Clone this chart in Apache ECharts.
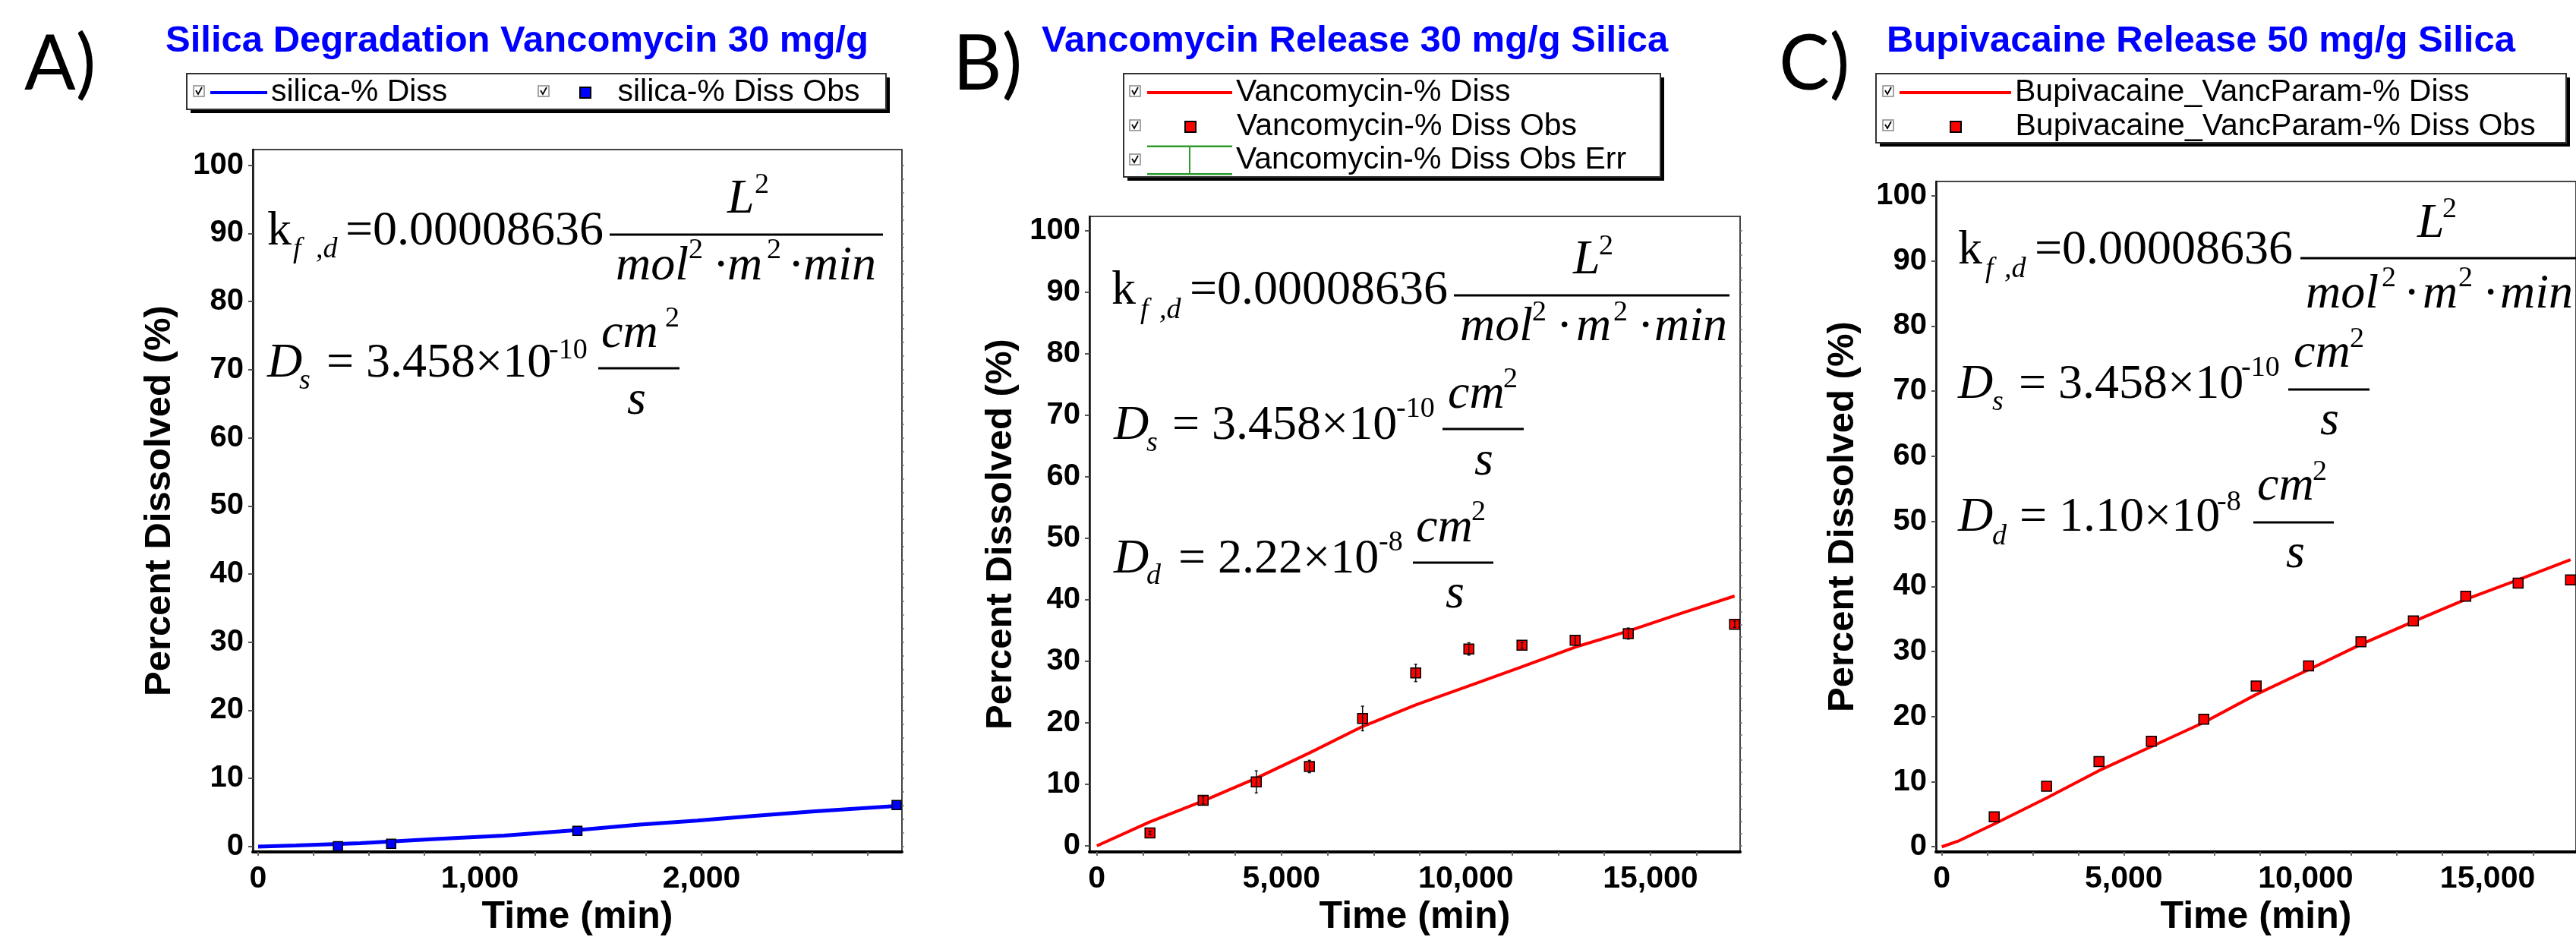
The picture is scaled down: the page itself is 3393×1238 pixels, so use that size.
<!DOCTYPE html>
<html>
<head>
<meta charset="utf-8">
<script src="https://cdn.jsdelivr.net/npm/echarts@6/dist/echarts.min.js"></script>
<style>
  html, body { margin: 0; padding: 0; background: #fff; }
  #chart { width: 3393px; height: 1238px; }
</style>
</head>
<body>
<div id="chart"></div>
<script>
// ---- data ----
// A) silica degradation, vancomycin 30 mg/g
const silicaTime = [0, 170, 460, 800, 1110, 1450, 1710, 1980, 2240, 2500, 2880];
const silicaDiss = [0, 0.15, 0.5, 1.1, 1.6, 2.45, 3.2, 3.8, 4.5, 5.15, 5.95];
const silicaObsTime = [360, 600, 1440, 2880];
const silicaObs = [0.05, 0.4, 2.3, 6.1];

// B) vancomycin release 30 mg/g silica
const vancTime = [0, 1440, 2880, 4320, 5760, 7200, 8640, 10080, 11520, 12960, 14400, 15840, 17280];
const vancDiss = [0, 3.9, 7.3, 11.0, 15.1, 19.4, 22.9, 26.0, 29.1, 32.3, 34.9, 37.8, 40.6];
const vancObsTime = [1440, 2880, 4320, 5760, 7200, 8640, 10080, 11520, 12960, 14400, 17280];
const vancObs = [2.1, 7.4, 10.4, 12.9, 20.7, 28.1, 32.0, 32.6, 33.4, 34.5, 36.0];
const vancObsErr = [0.3, 0.6, 1.8, 1.0, 2.0, 1.4, 1.0, 0.5, 0.8, 0.9, 0.5];

// C) bupivacaine release 50 mg/g silica
const bupiTime = [0, 440, 1440, 2880, 4320, 5760, 7200, 8640, 10080, 11520, 12960, 14400, 15840, 17280];
const bupiDiss = [0, 0.85, 3.5, 7.5, 11.7, 15.4, 19.1, 23.4, 27.2, 31.1, 34.6, 38.0, 41.0, 44.1];
const bupiObsTime = [1440, 2880, 4320, 5760, 7200, 8640, 10080, 11520, 12960, 14400, 15840, 17280];
const bupiObs = [4.6, 9.3, 13.1, 16.2, 19.6, 24.7, 27.8, 31.5, 34.7, 38.5, 40.5, 41.0];

// tick labels / tick marks
const pctLabels = [0, 10, 20, 30, 40, 50, 60, 70, 80, 90, 100];
const pctMinor = [0, 2, 4, 6, 8, 10, 12, 14, 16, 18, 20, 22, 24, 26, 28, 30, 32, 34, 36, 38, 40, 42, 44, 46, 48, 50,
  52, 54, 56, 58, 60, 62, 64, 66, 68, 70, 72, 74, 76, 78, 80, 82, 84, 86, 88, 90, 92, 94, 96, 98, 100];
const timeLabelsA = [0, 1000, 2000];
const timeTicksA = [0, 250, 500, 750, 1000, 1250, 1500, 1750, 2000, 2250, 2500, 2750];
const timeLabelsBC = [0, 5000, 10000, 15000];
const timeTicksBC = [0, 1250, 2500, 3750, 5000, 6250, 7500, 8750, 10000, 11250, 12500, 13750, 15000, 16250, 17500];

const sans = 'Liberation Sans, Arial, sans-serif';
const serif = 'Liberation Serif, Times New Roman, serif';

function pair(xs, ys) {
  return xs.map(function (x, i) { return [x, ys[i]]; });
}

function timeAxis(grid, min, max, labels, ticks) {
  return {
    gridIndex: grid,
    type: 'value',
    min: min,
    max: max,
    name: 'Time (min)',
    nameLocation: 'middle',
    nameGap: 60,
    nameTextStyle: { fontSize: 50, fontWeight: 'bold', color: '#000', fontFamily: sans },
    axisLine: { show: true, onZero: false, lineStyle: { color: '#000', width: 4 } },
    axisTick: { show: true, customValues: ticks, length: 5, lineStyle: { color: '#666', width: 2 } },
    axisLabel: {
      customValues: labels,
      margin: 15,
      fontSize: 41,
      fontWeight: 'bold',
      color: '#000',
      fontFamily: sans,
      formatter: function (v) { return v.toLocaleString('en-US'); }
    },
    splitLine: { show: false }
  };
}

function pctAxis(grid, min, max, gap) {
  return {
    gridIndex: grid,
    type: 'value',
    min: min,
    max: max,
    name: 'Percent Dissolved (%)',
    nameLocation: 'middle',
    nameGap: gap,
    nameTextStyle: { fontSize: 49, fontWeight: 'bold', color: '#000', fontFamily: sans },
    axisLine: { show: true, onZero: false, lineStyle: { color: '#111', width: 2.5 } },
    axisTick: { show: true, customValues: pctLabels, length: 6, lineStyle: { color: '#555', width: 2 } },
    axisLabel: {
      customValues: pctLabels,
      margin: 12,
      fontSize: 40,
      fontWeight: 'bold',
      color: '#000',
      fontFamily: sans
    },
    splitLine: { show: false }
  };
}

// second y axis per grid, only for the small ticks every 2 %
function pctMinorAxis(grid, min, max) {
  return {
    gridIndex: grid,
    type: 'value',
    min: min,
    max: max,
    axisLine: { show: false, onZero: false },
    axisTick: { show: true, customValues: pctMinor, length: 3, lineStyle: { color: '#777', width: 1.5 } },
    axisLabel: { show: false },
    splitLine: { show: false }
  };
}

// one legend component per entry so each sits where the original puts it
function legendItem(name, left, centerY, itemWidth, itemHeight, extra) {
  let item = Object.assign({ name: name }, extra || {});
  return {
    data: [item],
    left: left,
    top: centerY - 20.5,
    orient: 'horizontal',
    padding: 0,
    itemWidth: itemWidth,
    itemHeight: itemHeight,
    selectedMode: false,
    z: 5,
    textStyle: { fontSize: 41, color: '#000', fontFamily: sans }
  };
}

const squareIcon = 'path://M0,0H10V10H0Z';
const errIcon = 'path://M0,0H112V2.5H0Z M55,0H57V39H55Z M0,36.5H112V39H0Z';
function lineIcon(w) {
  return 'path://M0,0H' + w + 'V4H0Z';
}

// equation pieces: [x, middle y, text, size, italic]
const eqTexts = [
  // A
  [352, 305, 'k', 64, 0], [386, 329, 'f', 38, 1], [416, 329, ',d', 38, 1], [455, 305, '=0.00008636', 64, 0],
  [958, 263, 'L', 64, 1], [994, 244, '2', 38, 0],
  [811, 351, 'mol', 64, 1], [907, 330, '2', 38, 0], [939, 351, '·', 64, 0], [958, 351, 'm', 64, 1],
  [1010, 330, '2', 38, 0], [1038, 351, '·', 64, 0], [1058, 351, 'min', 64, 1],
  [352, 479, 'D', 64, 1], [394, 502, 's', 38, 1], [430, 479, '= 3.458×10', 64, 0], [723, 462, '-10', 38, 0],
  [792, 440, 'cm', 64, 1], [876, 420, '2', 38, 0], [826, 528, 's', 64, 1],
  // B
  [1464, 383, 'k', 64, 0], [1502, 409, 'f', 38, 1], [1527, 409, ',d', 38, 1], [1567, 383, '=0.00008636', 64, 0],
  [2072, 343, 'L', 64, 1], [2106, 325, '2', 38, 0],
  [1923, 431, 'mol', 64, 1], [2018, 412, '2', 38, 0], [2050, 431, '·', 64, 0], [2076, 431, 'm', 64, 1],
  [2125, 412, '2', 38, 0], [2157, 431, '·', 64, 0], [2179, 431, 'min', 64, 1],
  [1467, 561, 'D', 64, 1], [1510, 584, 's', 38, 1], [1544, 561, '= 3.458×10', 64, 0], [1839, 539, '-10', 38, 0],
  [1907, 520, 'cm', 64, 1], [1980, 500, '2', 38, 0], [1942, 608, 's', 64, 1],
  [1467, 737, 'D', 64, 1], [1510, 759, 'd', 38, 1], [1552, 737, '= 2.22×10', 64, 0], [1816, 715, '-8', 38, 0],
  [1865, 696, 'cm', 64, 1], [1938, 675, '2', 38, 0], [1904, 783, 's', 64, 1],
  // C
  [2579, 330, 'k', 64, 0], [2615, 355, 'f', 38, 1], [2640, 355, ',d', 38, 1], [2680, 330, '=0.00008636', 64, 0],
  [3184, 295, 'L', 64, 1], [3217, 276, '2', 38, 0],
  [3037, 388, 'mol', 64, 1], [3137, 367, '2', 38, 0], [3166, 388, '·', 64, 0], [3191, 388, 'm', 64, 1],
  [3238, 367, '2', 38, 0], [3270, 388, '·', 64, 0], [3293, 388, 'min', 64, 1],
  [2579, 507, 'D', 64, 1], [2624, 530, 's', 38, 1], [2659, 507, '= 3.458×10', 64, 0], [2952, 485, '-10', 38, 0],
  [3021, 466, 'cm', 64, 1], [3095, 447, '2', 38, 0], [3056, 555, 's', 64, 1],
  [2579, 682, 'D', 64, 1], [2624, 707, 'd', 38, 1], [2660, 682, '= 1.10×10', 64, 0], [2920, 662, '-8', 38, 0],
  [2973, 641, 'cm', 64, 1], [3046, 622, '2', 38, 0], [3011, 730, 's', 64, 1]
];
// fraction bars: [x1, x2, y]
const eqBars = [
  [803, 1163, 309], [788, 895, 485],
  [1915, 2278, 389], [1900, 2007, 565], [1861, 1967, 741],
  [3030, 3400, 340], [3014, 3121, 513], [2968, 3074, 688]
];
// legend frames [x, y, w, h] and check boxes [cx, cy]
const legendBoxes = [[246, 97, 921, 47], [1480, 97, 707, 136], [2471, 97, 909, 91]];
const checkBoxes = [[262, 120], [716, 120], [1495, 120], [1495, 165], [1495, 210], [2487, 120], [2487, 165]];
const panelLabels = [[32, 'A)'], [1255, 'B)'], [2343, 'C)']];

function buildGraphic() {
  let g = [];
  legendBoxes.forEach(function (b) {
    g.push({ type: 'rect', z: 1, shape: { x: b[0] + 5, y: b[1] + 5, width: b[2], height: b[3] }, style: { fill: '#000' } });
    g.push({ type: 'rect', z: 2, shape: { x: b[0], y: b[1], width: b[2], height: b[3] }, style: { fill: '#fff', stroke: '#333', lineWidth: 2 } });
  });
  checkBoxes.forEach(function (c) {
    g.push({ type: 'rect', z: 6, shape: { x: c[0] - 7, y: c[1] - 7, width: 14, height: 14 }, style: { fill: '#fff', stroke: '#888', lineWidth: 1.5 } });
    g.push({ type: 'polyline', z: 7, shape: { points: [[c[0] - 4, c[1] - 1], [c[0] - 1, c[1] + 4], [c[0] + 4, c[1] - 5]] }, style: { stroke: '#000', lineWidth: 1.8, fill: null } });
  });
  panelLabels.forEach(function (p) {
    g.push({ type: 'text', z: 3, x: p[0], y: 86, style: { text: p[1], fill: '#000', font: 'normal 100px Lato, "Open Sans", sans-serif', align: 'left', verticalAlign: 'middle' } });
  });
  eqTexts.forEach(function (t) {
    g.push({
      type: 'text', z: 3, x: t[0], y: t[1],
      style: {
        text: t[2], fill: '#000', align: 'left', verticalAlign: 'middle',
        font: (t[4] ? 'italic ' : '') + t[3] + 'px ' + serif
      }
    });
  });
  eqBars.forEach(function (b) {
    g.push({ type: 'line', z: 3, shape: { x1: b[0], y1: b[2], x2: b[1], y2: b[2] }, style: { stroke: '#000', lineWidth: 3 } });
  });
  return g;
}

let chart = echarts.init(document.getElementById('chart'));

let titleStyle = { fontSize: 49, fontWeight: 'bold', color: '#0000ff', fontFamily: sans };

let option = {
  backgroundColor: '#fff',
  animation: false,
  title: [
    { text: 'Silica Degradation Vancomycin 30 mg/g', left: 218, top: 30, padding: 0, textStyle: titleStyle },
    { text: 'Vancomycin Release 30 mg/g Silica', left: 1372, top: 30, padding: 0, textStyle: titleStyle },
    { text: 'Bupivacaine Release 50 mg/g Silica', left: 2485, top: 30, padding: 0, textStyle: titleStyle }
  ],
  // a path icon is laid out from its drawn edge, so square icons get left = box left + (itemWidth - itemHeight) / 2
  legend: [
    legendItem('silica-% Diss', 277, 122, 75, 14, { icon: lineIcon(75) }),
    legendItem('silica-% Diss Obs', 763, 122, 75, 14, { icon: squareIcon }),
    legendItem('Vancomycin-% Diss', 1511, 122, 112, 14, { icon: lineIcon(112) }),
    legendItem('Vancomycin-% Diss Obs', 1560, 167, 112, 14, { icon: squareIcon }),
    legendItem('Vancomycin-% Diss Obs Err', 1511, 211, 112, 39, { icon: errIcon, itemStyle: { color: '#2f9a2f', borderWidth: 0 } }),
    legendItem('Bupivacaine_VancParam-% Diss', 2502, 122, 147, 14, { icon: lineIcon(147) }),
    legendItem('Bupivacaine_VancParam-% Diss Obs', 2568, 167, 147, 14, { icon: squareIcon })
  ],
  grid: [
    { left: 333, top: 197, width: 855, height: 931, show: true, borderColor: '#444', borderWidth: 2 },
    { left: 1435, top: 285, width: 857, height: 843, show: true, borderColor: '#444', borderWidth: 2 },
    { left: 2550, top: 239, width: 855, height: 889, show: true, borderColor: '#444', borderWidth: 2 }
  ],
  xAxis: [
    timeAxis(0, -24, 2904, timeLabelsA, timeTicksA),
    timeAxis(1, -200, 17430, timeLabelsBC, timeTicksBC),
    timeAxis(2, -160, 17430, timeLabelsBC, timeTicksBC)
  ],
  yAxis: [
    pctAxis(0, -0.8, 102.3, 98),
    pctAxis(1, -1.0, 102.3, 92),
    pctAxis(2, -0.8, 102.2, 98),
    pctMinorAxis(0, -0.8, 102.3),
    pctMinorAxis(1, -1.0, 102.3),
    pctMinorAxis(2, -0.8, 102.2)
  ],
  graphic: { elements: buildGraphic() },
  series: [
    {
      name: 'silica-% Diss', type: 'line', xAxisIndex: 0, yAxisIndex: 0,
      symbol: 'none', z: 2,
      lineStyle: { color: '#0000ff', width: 5 }, itemStyle: { color: '#0000ff' },
      data: pair(silicaTime, silicaDiss)
    },
    {
      name: 'silica-% Diss Obs', type: 'scatter', xAxisIndex: 0, yAxisIndex: 0,
      symbol: 'rect', symbolSize: 12, z: 3,
      itemStyle: { color: '#0000ff', borderColor: '#000', borderWidth: 1.5, opacity: 1 },
      data: pair(silicaObsTime, silicaObs)
    },
    {
      name: 'Vancomycin-% Diss', type: 'line', xAxisIndex: 1, yAxisIndex: 1,
      symbol: 'none', z: 2,
      lineStyle: { color: '#ff0000', width: 4 }, itemStyle: { color: '#ff0000' },
      data: pair(vancTime, vancDiss)
    },
    {
      name: 'Vancomycin-% Diss Obs', type: 'scatter', xAxisIndex: 1, yAxisIndex: 1,
      symbol: 'rect', symbolSize: 13, z: 3,
      itemStyle: { color: '#ff0000', borderColor: '#000', borderWidth: 1.5, opacity: 1 },
      data: pair(vancObsTime, vancObs)
    },
    {
      name: 'Vancomycin-% Diss Obs Err', type: 'custom', xAxisIndex: 1, yAxisIndex: 1, z: 4,
      itemStyle: { color: '#000' },
      encode: { x: 0, y: [1, 2] },
      renderItem: function (params, api) {
        let x = api.value(0);
        let top = api.coord([x, api.value(2)]);
        let bottom = api.coord([x, api.value(1)]);
        let style = { stroke: '#111', lineWidth: 1.5 };
        return {
          type: 'group',
          children: [
            { type: 'line', shape: { x1: top[0], y1: top[1], x2: bottom[0], y2: bottom[1] }, style: style },
            { type: 'line', shape: { x1: top[0] - 2, y1: top[1], x2: top[0] + 2, y2: top[1] }, style: style },
            { type: 'line', shape: { x1: bottom[0] - 2, y1: bottom[1], x2: bottom[0] + 2, y2: bottom[1] }, style: style }
          ]
        };
      },
      data: vancObsTime.map(function (t, i) {
        return [t, vancObs[i] - vancObsErr[i], vancObs[i] + vancObsErr[i]];
      })
    },
    {
      name: 'Bupivacaine_VancParam-% Diss', type: 'line', xAxisIndex: 2, yAxisIndex: 2,
      symbol: 'none', z: 2,
      lineStyle: { color: '#ff0000', width: 4 }, itemStyle: { color: '#ff0000' },
      data: pair(bupiTime, bupiDiss)
    },
    {
      name: 'Bupivacaine_VancParam-% Diss Obs', type: 'scatter', xAxisIndex: 2, yAxisIndex: 2,
      symbol: 'rect', symbolSize: 13, z: 3,
      itemStyle: { color: '#ff0000', borderColor: '#000', borderWidth: 1.5, opacity: 1 },
      data: pair(bupiObsTime, bupiObs)
    }
  ]
};

window.addEventListener('resize', function () {
  chart.resize();
});
chart.setOption(option, true);
</script>
</body>
</html>
